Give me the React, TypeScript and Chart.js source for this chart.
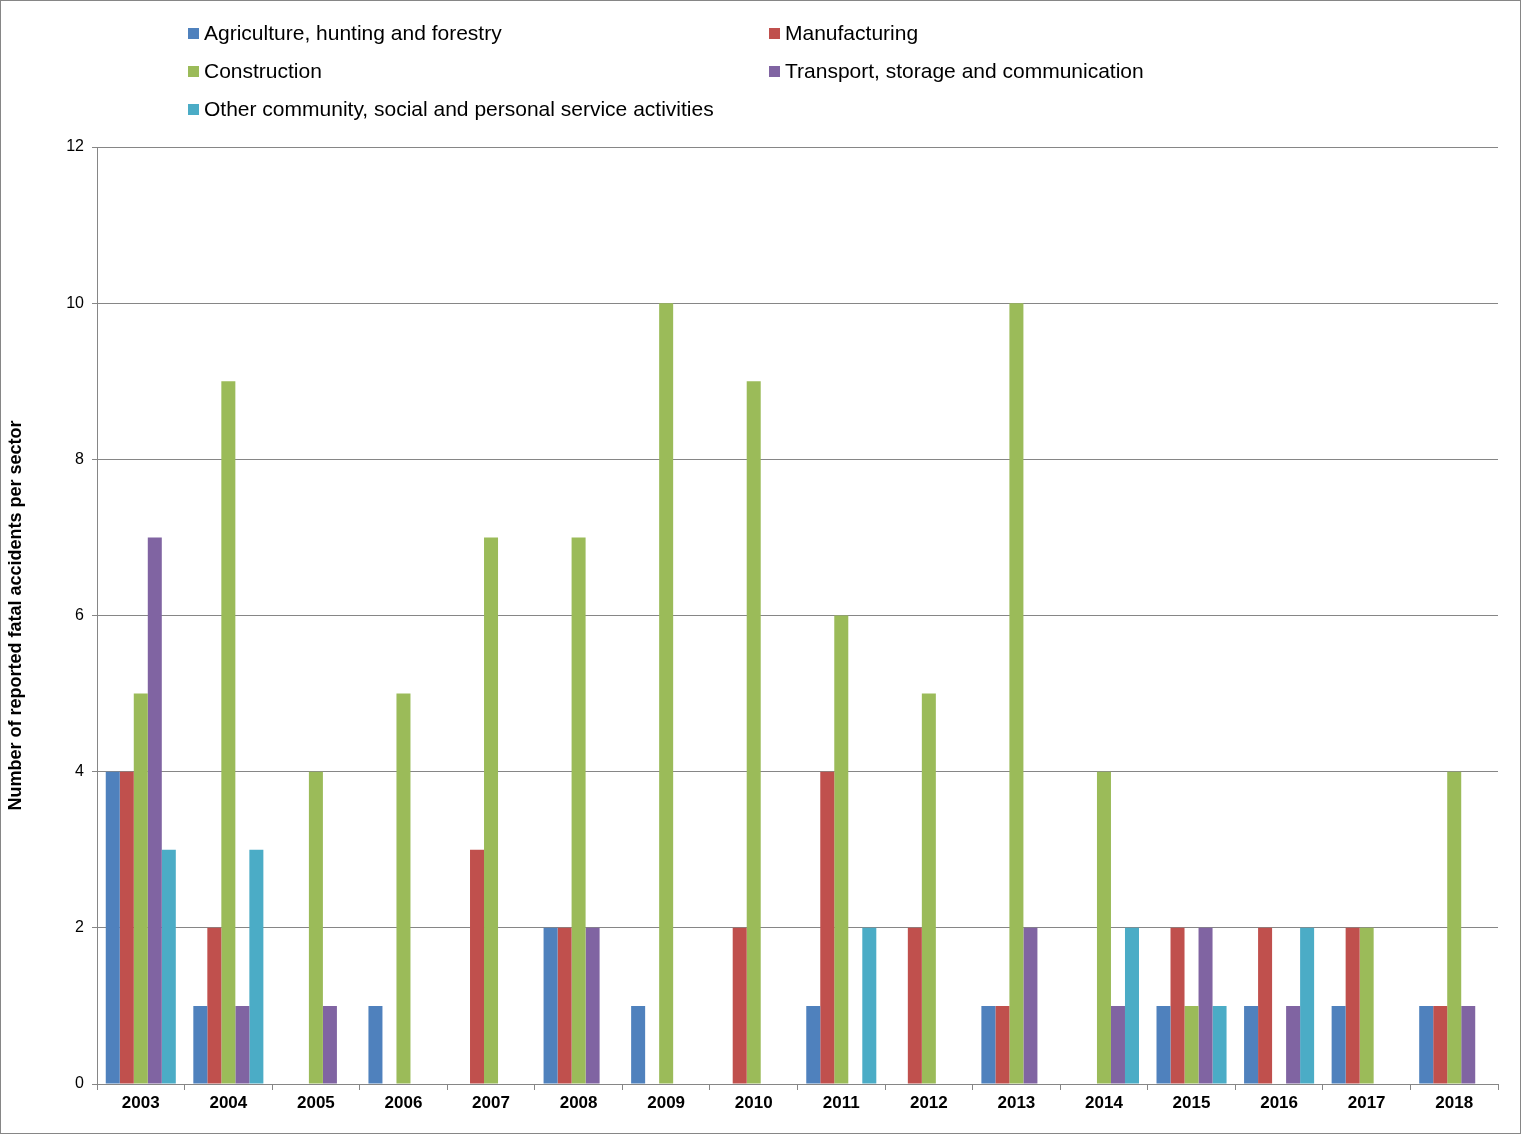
import React, { useEffect, useRef } from "react";
import { Chart, registerables } from "chart.js";
Chart.register(...registerables);

const years = ["2003","2004","2005","2006","2007","2008","2009","2010","2011","2012","2013","2014","2015","2016","2017","2018"];
const agriculture = [4,1,0,1,0,2,1,0,1,0,1,0,1,1,1,1];
const manufacturing = [4,2,0,0,3,2,0,2,4,2,1,0,2,2,2,1];
const construction = [5,9,4,5,7,7,10,9,6,5,10,4,1,0,2,4];
const transport = [7,1,1,0,0,2,0,0,0,0,2,1,2,1,0,1];
const other = [3,3,0,0,0,0,0,0,2,0,0,2,1,2,0,0];
const names = ["Agriculture, hunting and forestry","Manufacturing","Construction","Transport, storage and communication","Other community, social and personal service activities"];
const colors = ["#4F81BD","#C0504D","#9BBB59","#8064A2","#4BACC6"];
const legendPos = [[187,32],[768,32],[187,70],[768,70],[187,108]];

export default function App() {
  const ref = useRef<HTMLCanvasElement>(null);
  useEffect(() => {
    document.body.style.margin = "0";
    const series = [agriculture, manufacturing, construction, transport, other];
    const chart = new Chart(ref.current!, {
      type: "bar",
      data: {
        labels: years,
        datasets: series.map((d, i) => ({ label: names[i], data: d, backgroundColor: colors[i], categoryPercentage: 0.8, barPercentage: 1 })),
      },
      options: {
        animation: false,
        responsive: false,
        layout: { padding: { top: 146, right: 22, left: 0, bottom: 0 } },
        plugins: { legend: { display: false }, tooltip: { enabled: false } },
        scales: {
          x: {
            grid: { display: true, drawOnChartArea: false, color: "#868686", tickLength: 6, offset: true },
            border: { color: "#868686" },
            ticks: { color: "#000", font: { family: "Arial, 'Liberation Sans'", size: 17, weight: "bold" } },
            afterFit: (s: any) => { s.height = 49; },
          },
          y: {
            min: 0, max: 12,
            ticks: { stepSize: 2, color: "#000", font: { family: "Arial, 'Liberation Sans'", size: 16 }, padding: 8 },
            grid: { color: "#868686", tickLength: 5 },
            border: { color: "#868686" },
            title: { display: true, text: "Number of reported fatal accidents per sector", color: "#000", font: { family: "Arial, 'Liberation Sans'", size: 18, weight: "bold" } },
            afterFit: (s: any) => { s.width = 96; },
          },
        },
      },
    });
    return () => chart.destroy();
  }, []);
  return (
    <div style={{ position: "relative", width: 1519, height: 1132, border: "1px solid #868686", background: "#fff", fontFamily: "Arial, 'Liberation Sans', sans-serif" }}>
      <canvas ref={ref} width={1519} height={1132} />
      {names.map((n, i) => (
        <div key={n} style={{ position: "absolute", left: legendPos[i][0], top: legendPos[i][1] - 13, display: "flex", alignItems: "center", fontSize: 21, color: "#000", whiteSpace: "nowrap", lineHeight: "26px" }}>
          <span style={{ width: 11, height: 11, background: colors[i], marginRight: 5, display: "inline-block" }} />
          {n}
        </div>
      ))}
    </div>
  );
}
